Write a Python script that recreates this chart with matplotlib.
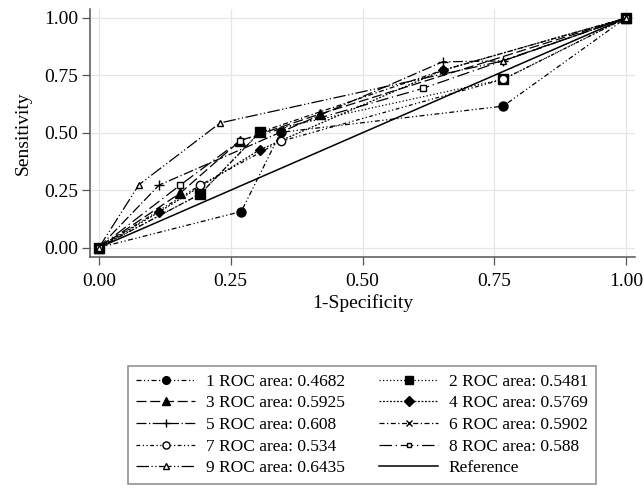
import matplotlib
matplotlib.use('Agg')
import matplotlib.pyplot as plt

plt.rcParams['font.family'] = ['Liberation Serif', 'DejaVu Serif']
plt.rcParams['font.size'] = 14

# ROC points (1-specificity, sensitivity)
x1 = [0.0, 0.27, 0.345, 0.767, 1.0]
y1 = [0.0, 0.157, 0.502, 0.616, 1.0]
x2 = [0.0, 0.192, 0.305, 0.767, 1.0]
y2 = [0.0, 0.233, 0.502, 0.733, 1.0]
x3 = [0.0, 0.154, 0.268, 0.42, 1.0]
y3 = [0.0, 0.237, 0.466, 0.582, 1.0]
x4 = [0.0, 0.114, 0.305, 0.652, 1.0]
y4 = [0.0, 0.155, 0.426, 0.772, 1.0]
x5 = [0.0, 0.114, 0.652, 0.767, 1.0]
y5 = [0.0, 0.272, 0.809, 0.813, 1.0]
x6 = [0.0, 0.192, 0.305, 0.652, 1.0]
y6 = [0.0, 0.233, 0.502, 0.772, 1.0]
x7 = [0.0, 0.192, 0.345, 0.767, 1.0]
y7 = [0.0, 0.272, 0.463, 0.733, 1.0]
x8 = [0.0, 0.154, 0.268, 0.614, 1.0]
y8 = [0.0, 0.272, 0.466, 0.693, 1.0]
x9 = [0.0, 0.076, 0.23, 0.767, 1.0]
y9 = [0.0, 0.274, 0.543, 0.813, 1.0]

areas = ['0.4682', '0.5481', '0.5925', '0.5769', '0.608',
         '0.5902', '0.534', '0.588', '0.6435']
xs = [x1, x2, x3, x4, x5, x6, x7, x8, x9]
ys = [y1, y2, y3, y4, y5, y6, y7, y8, y9]
tick_vals = [0, 0.25, 0.5, 0.75, 1.0]

# marker, markersize, filled, dash pattern
styles = [
    ('o', 6.5, True, (4, 2, 1, 2, 1, 2)),
    ('s', 6.5, True, (1, 1.8)),
    ('^', 6.5, True, (8, 3)),
    ('D', 5.5, True, (1.5, 1.3)),
    ('+', 7, True, (8, 2, 1, 2)),
    ('x', 5, True, (4, 2, 1, 2)),
    ('o', 6, False, (3, 2, 1, 2, 1, 2)),
    ('s', 4, False, (10, 3, 1, 3)),
    ('^', 4.5, False, (10, 2, 1, 2, 1, 2)),
]

fig = plt.figure(figsize=(6.44, 4.88), dpi=100)
ax = fig.add_axes([90 / 644, 1 - 257 / 488, 545 / 644, (257 - 9) / 488])

handles = []
for i in range(9):
    m, ms, filled, dash = styles[i]
    ln, = ax.plot(xs[i], ys[i], color='black', lw=0.9, marker=m, markersize=ms,
                  markerfacecolor='black' if filled else 'white',
                  markeredgecolor='black', markeredgewidth=1.0,
                  label=f'{i + 1} ROC area: {areas[i]}', zorder=3)
    ln.set_dashes(dash)
    handles.append(ln)

ref, = ax.plot([0, 1], [0, 1], color='black', lw=1.1, label='Reference', zorder=2)

ax.set_xlim(-0.017, 1.017)
ax.set_ylim(-0.041, 1.039)
ax.set_xticks(tick_vals)
ax.set_yticks(tick_vals)
ax.set_xticklabels([f'{t:.2f}' for t in tick_vals])
ax.set_yticklabels([f'{t:.2f}' for t in tick_vals])
ax.grid(True, color='#e6e6e6', lw=0.9)
ax.set_axisbelow(True)
for s in ['top', 'right']:
    ax.spines[s].set_visible(False)
for s in ['left', 'bottom']:
    ax.spines[s].set_color('#555555')
    ax.spines[s].set_linewidth(1.1)
ax.tick_params(direction='out', length=5.5, width=0.9, color='#555555', labelsize=14)
ax.tick_params(axis='x', pad=6)
ax.tick_params(axis='y', pad=3)
ax.set_xlabel('1-Specificity', fontsize=14, labelpad=3)
ax.set_ylabel('Sensitivity', fontsize=14, labelpad=9)

order = [handles[0], handles[2], handles[4], handles[6], handles[8],
         handles[1], handles[3], handles[5], handles[7], ref]
leg = fig.legend(handles=order, loc='center', bbox_to_anchor=(362 / 644, 1 - 425 / 488),
                 ncol=2, frameon=True, fancybox=False, edgecolor='#777777',
                 fontsize=12.5, handlelength=3.4, handletextpad=0.6, columnspacing=2.0,
                 labelspacing=0.32, borderpad=0.45, markerscale=0.85)
leg.get_frame().set_linewidth(1.2)

fig.savefig('out.png', dpi=100)
